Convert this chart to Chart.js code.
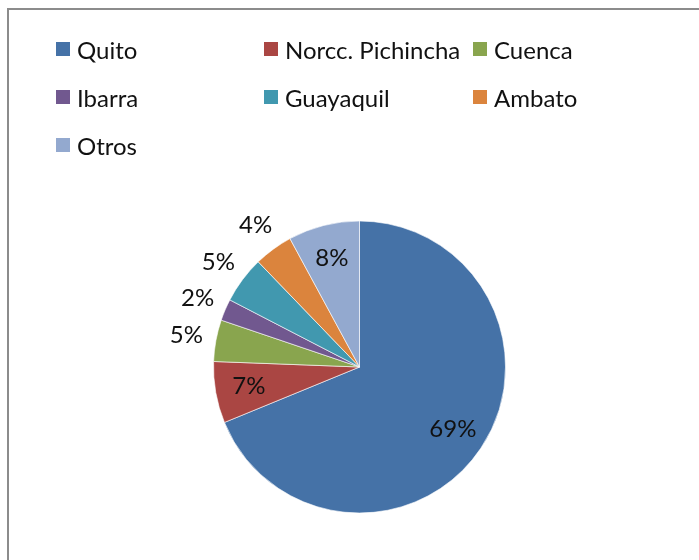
<!DOCTYPE html>
<html>
<head>
<meta charset="utf-8">
<script src="https://cdn.jsdelivr.net/npm/chart.js@4"></script>
<style>
  html, body { margin: 0; padding: 0; background: #fff; }
  body { width: 699px; height: 560px; position: relative; overflow: hidden; font-family: Lato, "Open Sans", sans-serif; }
  #frame { position: absolute; left: 7px; top: 8px; width: 720px; height: 600px; border: 2px solid #8c8c8c; box-sizing: border-box; }
  #wrap { position: absolute; left: 0; top: 0; width: 699px; height: 560px; }
  #legend { position: absolute; left: 56px; top: 25px; display: grid; grid-template-columns: 208px 209px 200px; grid-auto-rows: 48px; }
  .item { display: flex; align-items: center; font-size: 24px; color: #111; white-space: nowrap; }
  .box { width: 14px; height: 14px; margin-right: 7px; flex: none; }
</style>
</head>
<body>
<div id="frame"></div>
<div id="wrap"><canvas id="myChart"></canvas></div>
<div id="legend"></div>
<script>
// data block
var ciudades = ['Quito', 'Norcc. Pichincha', 'Cuenca', 'Ibarra', 'Guayaquil', 'Ambato', 'Otros'];
var porcentajes = [68.8, 6.8, 4.6, 2.4, 5.2, 4.3, 7.9];
var colores = ['#4572A7', '#AA4643', '#89A54E', '#71588F', '#4198AF', '#DB843D', '#93A9CF'];
var etiquetasFuera = [false, false, true, true, true, true, false]; // small slices get the label outside

// html legend, 3 columns like the original
var leg = document.getElementById('legend');
ciudades.forEach(function (c, i) {
    var it = document.createElement('div');
    it.className = 'item';
    var b = document.createElement('span');
    b.className = 'box';
    b.style.background = colores[i];
    it.appendChild(b);
    it.appendChild(document.createTextNode(c));
    leg.appendChild(it);
});

// percent labels on / beside the slices
var etiquetas = {
    id: 'etiquetas',
    afterDatasetsDraw: function (chart) {
        var ctx = chart.ctx;
        var meta = chart.getDatasetMeta(0);
        ctx.save();
        ctx.font = '24px Lato, "Open Sans", sans-serif';
        ctx.fillStyle = '#111';
        ctx.textAlign = 'center';
        ctx.textBaseline = 'middle';
        meta.data.forEach(function (arc, i) {
            var p = arc.getProps(['x', 'y', 'startAngle', 'endAngle', 'outerRadius'], true);
            var mid = (p.startAngle + p.endAngle) / 2;
            var d = etiquetasFuera[i] ? p.outerRadius + 30 : p.outerRadius * 0.77;
            var txt = Math.round(porcentajes[i]) + '%';
            ctx.fillText(txt, p.x + Math.cos(mid) * d, p.y + Math.sin(mid) * d);
        });
        ctx.restore();
    }
};

var myCrt = document.getElementById('myChart');
var myPie = new Chart(myCrt, {
    type: 'pie',
    data: {
        labels: ciudades,
        datasets: [{
            data: porcentajes,
            backgroundColor: colores,
            borderColor: 'rgba(255,255,255,0.6)',
            borderWidth: 1
        }]
    },
    options: {
        responsive: true,
        maintainAspectRatio: false,
        animation: false,
        layout: {
            padding: { left: 213, right: 193, top: 220, bottom: 46 }
        },
        plugins: {
            legend: { display: false },
            tooltip: { enabled: false }
        }
    },
    plugins: [etiquetas]
});
</script>
</body>
</html>
